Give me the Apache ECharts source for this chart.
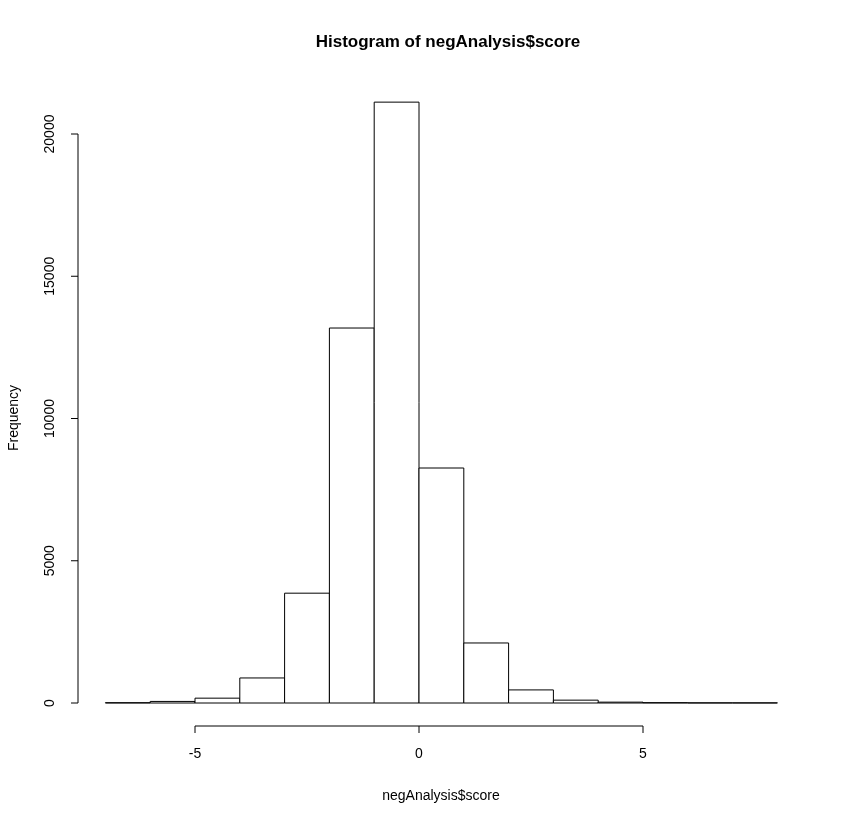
<!DOCTYPE html>
<html><head><meta charset="utf-8">
<script src="https://cdn.jsdelivr.net/npm/echarts@6/dist/echarts.min.js"></script>
<style>body{margin:0;background:#fff}#main{width:845px;height:825px}</style>
</head><body><div id="main"></div>
<script>
const binStarts = [-7,-6,-5,-4,-3,-2,-1,0,1,2,3,4,5,6,7];
const counts = [10,55,170,880,3860,13180,21120,8260,2110,460,100,30,12,6,5];
const xTicks = [-5,0,5];
const yTicks = [0,5000,10000,15000,20000];
const FONT = 'Liberation Sans';

const chart = echarts.init(document.getElementById('main'));
chart.setOption({
  animation: false,
  grid: { left: 105.4, right: 67.6, top: 77.1, bottom: 122 },
  xAxis: { type: 'value', min: -7, max: 8, show: false },
  yAxis: { type: 'value', min: 0, max: 22000, show: false },
  series: [{
    type: 'custom',
    data: binStarts.map((s, i) => [s, s + 1, counts[i]]),
    renderItem: (params, api) => {
      const p0 = api.coord([api.value(0), 0]);
      const p1 = api.coord([api.value(1), api.value(2)]);
      return { type: 'rect', shape: { x: p0[0], y: p1[1], width: p1[0] - p0[0], height: p0[1] - p1[1] },
        style: { fill: '#fff', stroke: '#000', lineWidth: 1 } };
    }
  }]
});

// R-style axes built from the scales
const px = v => chart.convertToPixel({ xAxisIndex: 0 }, v);
const py = v => chart.convertToPixel({ yAxisIndex: 0 }, v);
const g = [];
const xl = 726, yl = 78, tk = 7;
const ln = (x1, y1, x2, y2) => ({ type: 'line', shape: { x1, y1, x2, y2 }, style: { stroke: '#000', lineWidth: 1 } });
g.push(ln(px(xTicks[0]), xl, px(xTicks[xTicks.length - 1]), xl));
xTicks.forEach(t => {
  g.push(ln(px(t), xl, px(t), xl + tk));
  g.push({ type: 'text', x: px(t), y: 754, style: { text: String(t), font: '14px ' + FONT, fill: '#000', align: 'center', verticalAlign: 'middle' } });
});
g.push(ln(yl, py(yTicks[0]), yl, py(yTicks[yTicks.length - 1])));
yTicks.forEach(t => {
  g.push(ln(yl, py(t), yl - tk, py(t)));
  g.push({ type: 'text', x: 50, y: py(t), rotation: Math.PI / 2, style: { text: String(t), font: '14px ' + FONT, fill: '#000', align: 'center', verticalAlign: 'middle' } });
});
g.push({ type: 'text', x: 448, y: 42, style: { text: 'Histogram of negAnalysis$score', font: 'bold 17px ' + FONT, fill: '#000', align: 'center', verticalAlign: 'middle' } });
g.push({ type: 'text', x: 441, y: 796, style: { text: 'negAnalysis$score', font: '14px ' + FONT, fill: '#000', align: 'center', verticalAlign: 'middle' } });
g.push({ type: 'text', x: 14, y: 418, rotation: Math.PI / 2, style: { text: 'Frequency', font: '14px ' + FONT, fill: '#000', align: 'center', verticalAlign: 'middle' } });
chart.setOption({ graphic: g });
</script></body></html>
